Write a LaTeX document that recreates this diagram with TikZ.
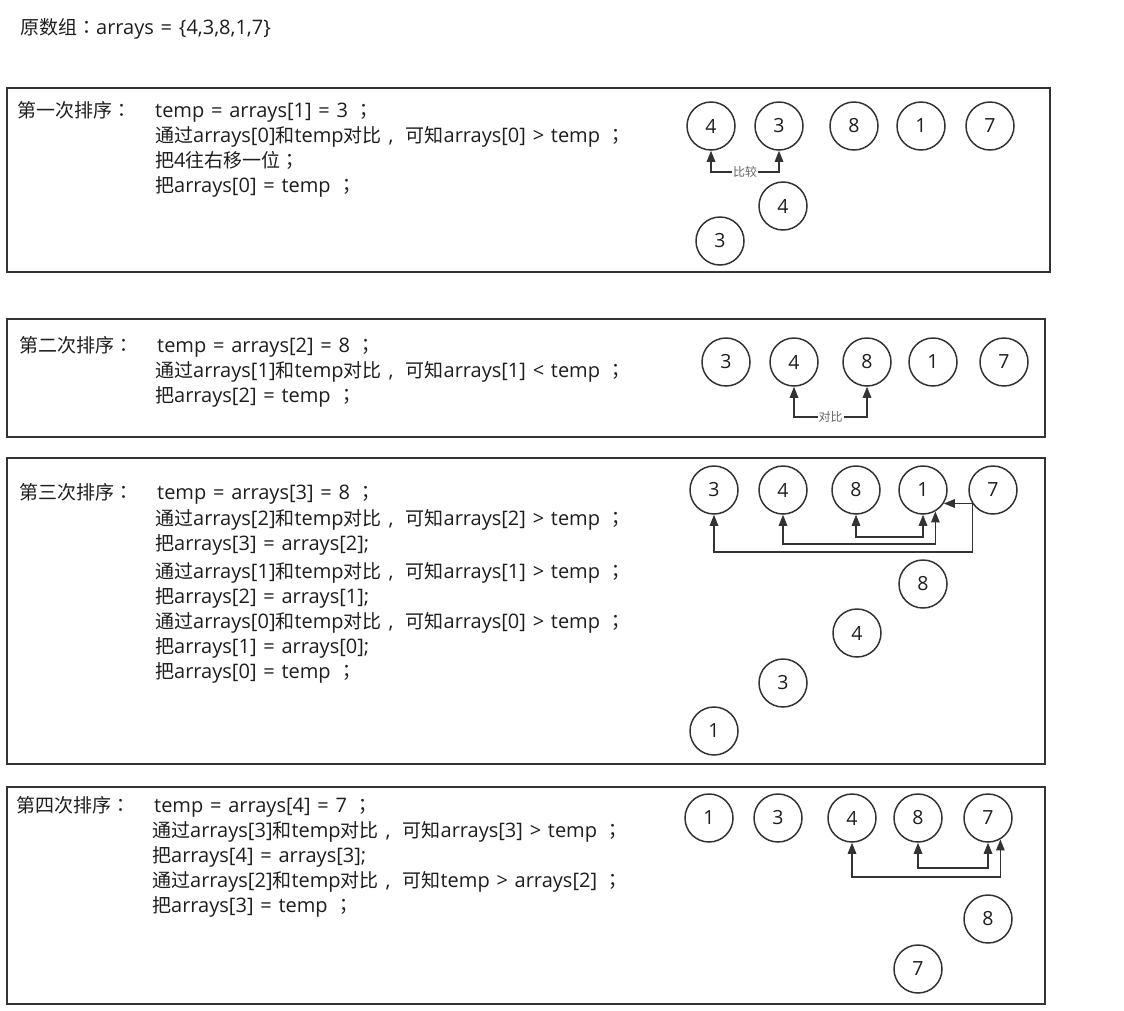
\documentclass[tikz,border=0pt]{standalone}
\usepackage{fontspec}
\setmainfont[WordSpace=1.3]{Open Sans}
\newfontfamily\zhfont{Noto Sans CJK SC}
\newfontfamily\zhpunct{Noto Sans CJK TC}
\newcommand\zc[1]{{\zhfont\fontsize{19}{22}\selectfont #1}}
\newcommand\zp[1]{{\zhpunct\fontsize{19}{22}\selectfont #1}}
\newcommand\zcomma{\hspace{7pt},\hspace{12pt}}
\usetikzlibrary{arrows.meta}
\definecolor{ink}{HTML}{333333}
\definecolor{word}{HTML}{1E1E1E}
\tikzset{
  box/.style={draw=ink,line width=1.5pt},
  txt/.style={anchor=base west,inner sep=0pt,text=word,font=\fontsize{20}{22}\selectfont},
  ball/.style={circle,draw=ink,line width=1.5pt,minimum size=48pt,inner sep=0pt,text=word,font=\fontsize{19.5}{22}\selectfont},
  link/.style={draw=ink,line width=1.5pt,{Triangle[length=11pt,width=8.5pt]}-{Triangle[length=11pt,width=8.5pt]}},
  onelink/.style={draw=ink,line width=1.5pt,-{Triangle[length=11pt,width=8.5pt]}},
  tag/.style={fill=white,inner sep=1pt,text=ink!75,font=\zhfont\fontsize{12}{13}\selectfont}
}
\begin{document}
\begin{tikzpicture}[x=1pt,y=-1pt]
\useasboundingbox[fill=white] (0,0) rectangle (1124,1010);
\node[txt] (title) at (20,34) {\zc{原数组}\zp{：}arrays = \{4,3,8,1,7\}};
% box 1
\draw[box] (7,88) rectangle (1050,272);
\node[txt] (l1) at (17,117) {\zc{第一次排序}\zp{：}};
\node[txt] (t11) at (155,117) {temp = arrays[1] = 3 \zp{；}};
\node[txt] (t12) at (155,142) {\zc{通过}arrays[0]\zc{和}temp\zc{对比}\zcomma\zc{可知}arrays[0] > temp \zp{；}};
\node[txt] (t13) at (155,167) {\zc{把}4\zc{往右移一位}\zp{；}};
\node[txt] (t14) at (155,192) {\zc{把}arrays[0] = temp \zp{；}};
\node[ball] (a1) at (711,126) {4};
\node[ball] (a2) at (779,126) {3};
\node[ball] (a3) at (854,126) {8};
\node[ball] (a4) at (921,126) {1};
\node[ball] (a5) at (990,126) {7};
\node[ball] (a6) at (783,206) {4};
\node[ball] (a7) at (720,241) {3};
\draw[link] (a1.south) -- (a1.south |- 0,172) -| node[tag,pos=0.25] {比较} (a2.south);
% box 2
\draw[box] (7,319) rectangle (1045,437);
\node[txt] (l2) at (19,352) {\zc{第二次排序}\zp{：}};
\node[txt] (t21) at (157,352) {temp = arrays[2] = 8 \zp{；}};
\node[txt] (t22) at (155,377) {\zc{通过}arrays[1]\zc{和}temp\zc{对比}\zcomma\zc{可知}arrays[1] < temp \zp{；}};
\node[txt] (t23) at (155,402) {\zc{把}arrays[2] = temp \zp{；}};
\node[ball] (b1) at (726,362) {3};
\node[ball] (b2) at (794,362) {4};
\node[ball] (b3) at (867,362) {8};
\node[ball] (b4) at (933,362) {1};
\node[ball] (b5) at (1004,362) {7};
\draw[link] (b2.south) -- (b2.south |- 0,417) -| node[tag,pos=0.25] {对比} (b3.south);
% box 3
\draw[box] (7,458) rectangle (1045,764);
\node[txt] (l3) at (19,499) {\zc{第三次排序}\zp{：}};
\node[txt] (t31) at (157,499) {temp = arrays[3] = 8 \zp{；}};
\node[txt] (t32) at (155,525) {\zc{通过}arrays[2]\zc{和}temp\zc{对比}\zcomma\zc{可知}arrays[2] > temp \zp{；}};
\node[txt] (t33) at (155,550) {\zc{把}arrays[3] = arrays[2];};
\node[txt] (t34) at (155,578) {\zc{通过}arrays[1]\zc{和}temp\zc{对比}\zcomma\zc{可知}arrays[1] > temp \zp{；}};
\node[txt] (t35) at (155,603) {\zc{把}arrays[2] = arrays[1];};
\node[txt] (t36) at (155,628) {\zc{通过}arrays[0]\zc{和}temp\zc{对比}\zcomma\zc{可知}arrays[0] > temp \zp{；}};
\node[txt] (t37) at (155,653) {\zc{把}arrays[1] = arrays[0];};
\node[txt] (t38) at (155,678) {\zc{把}arrays[0] = temp \zp{；}};
\node[ball] (c1) at (714,490) {3};
\node[ball] (c2) at (783,490) {4};
\node[ball] (c3) at (856,490) {8};
\node[ball] (c4) at (923,490) {1};
\node[ball] (c5) at (993,490) {7};
\node[ball] (c6) at (923,584) {8};
\node[ball] (c7) at (857,633) {4};
\node[ball] (c8) at (783,683) {3};
\node[ball] (c9) at (714,731) {1};
\draw[link] (c3.south) -- (c3.south |- 0,537) -| (c4.south);
\draw[link] (c2.south) -- (c2.south |- 0,544) -| (c4.-60);
\draw[onelink] (c5.213) -- (c4.-33);
\draw[onelink] (c5.213) -- (c5.213 |- 0,552) -| (c1.south);
% box 4
\draw[box] (7,787) rectangle (1045,1004);
\node[txt] (l4) at (16,812) {\zc{第四次排序}\zp{：}};
\node[txt] (t41) at (154,812) {temp = arrays[4] = 7 \zp{；}};
\node[txt] (t42) at (152,837) {\zc{通过}arrays[3]\zc{和}temp\zc{对比}\zcomma\zc{可知}arrays[3] > temp \zp{；}};
\node[txt] (t43) at (152,862) {\zc{把}arrays[4] = arrays[3];};
\node[txt] (t44) at (152,887) {\zc{通过}arrays[2]\zc{和}temp\zc{对比}\zcomma\zc{可知}temp > arrays[2] \zp{；}};
\node[txt] (t45) at (152,912) {\zc{把}arrays[3] = temp \zp{；}};
\node[ball] (d1) at (709,818) {1};
\node[ball] (d2) at (778,818) {3};
\node[ball] (d3) at (852,818) {4};
\node[ball] (d4) at (918,818) {8};
\node[ball] (d5) at (988,818) {7};
\node[ball] (d6) at (988,919) {8};
\node[ball] (d7) at (918,969) {7};
\draw[link] (d4.south) -- (d4.south |- 0,868) -| (d5.south);
\draw[link] (d3.south) -- (d3.south |- 0,877) -| (d5.-60);
\end{tikzpicture}
\end{document}
